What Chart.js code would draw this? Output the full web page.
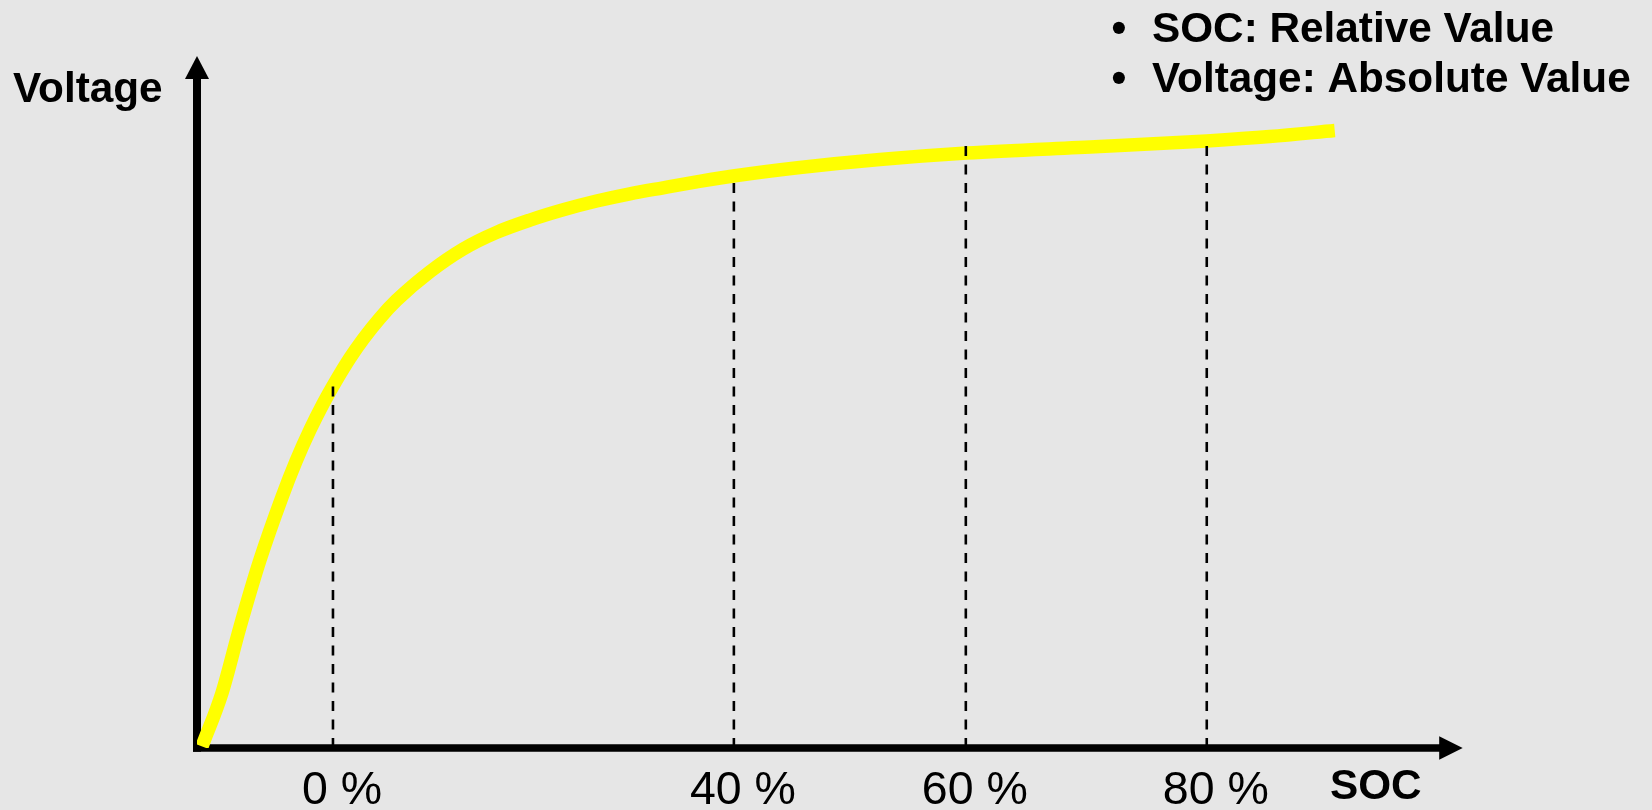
<!DOCTYPE html>
<html>
<head>
<meta charset="utf-8">
<script src="https://cdn.jsdelivr.net/npm/chart.js@4.4.1/dist/chart.umd.min.js"></script>
<style>
  html, body { margin: 0; padding: 0; background: #e6e6e6; overflow: hidden; }
  #wrap { width: 1652px; height: 810px; position: relative; }
</style>
</head>
<body>
<div id="wrap"><canvas id="c"></canvas></div>
<script>
// Charge axis in arbitrary capacity units, voltage axis in volts
const chargeAxisMax = 126.6;
const voltageAxisMax = 4.5;

// Charging curve of the cell
const curveCharge  = [0.5, 2.5, 4.3, 6.3, 8.5, 9.9, 11.3, 12.6, 13.95, 15.3, 16.63, 18.3, 19.97, 23.3, 26.63, 29.97, 33.3, 36.63, 39.97, 43.3, 46.63, 49.97, 53.8, 60.3, 68.3, 77.0, 90.3, 101.0, 107.3, 113.8];
const curveVoltage = [0.01, 0.358, 0.787, 1.223, 1.632, 1.864, 2.068, 2.237, 2.393, 2.536, 2.660, 2.796, 2.912, 3.097, 3.245, 3.353, 3.433, 3.500, 3.557, 3.604, 3.643, 3.681, 3.721, 3.775, 3.827, 3.869, 3.911, 3.948, 3.976, 4.015];

// SOC marks along the charge axis
const socLabels  = ['0 %', '40 %', '60 %', '80 %'];
const socCharge  = [13.6, 53.7, 76.9, 101.0];
const socVoltage = [2.35, 3.71, 3.92, 3.96];

const axisTitleX = 'SOC';
const axisTitleY = 'Voltage';
const notes = ['SOC: Relative Value', 'Voltage: Absolute Value'];

const FONT = '"Liberation Sans", Arial, Helvetica, sans-serif';

const curveData = curveCharge.map((x, i) => ({ x, y: curveVoltage[i] }));

const markerSets = socCharge.map((x, i) => ({
  label: socLabels[i],
  data: [{ x, y: 0 }, { x, y: socVoltage[i] }],
  borderColor: '#000',
  borderWidth: 2.6,
  borderDash: [10, 8.5],
  pointRadius: 0,
  fill: false,
  order: 1
}));

const axesPlugin = {
  id: 'arrowAxes',
  beforeDatasetsDraw(chart) {
    const { ctx, scales: { x: xs, y: ys } } = chart;
    const x0 = xs.getPixelForValue(0);
    const y0 = ys.getPixelForValue(0);
    const xEnd = xs.getPixelForValue(chargeAxisMax);
    const yEnd = ys.getPixelForValue(voltageAxisMax);
    ctx.save();
    ctx.fillStyle = '#000';
    // vertical axis with arrowhead
    ctx.fillRect(x0 - 4, yEnd + 22, 8, (y0 + 3.7) - (yEnd + 22));
    ctx.beginPath();
    ctx.moveTo(x0, yEnd);
    ctx.lineTo(x0 - 12, yEnd + 23);
    ctx.lineTo(x0 + 12, yEnd + 23);
    ctx.closePath();
    ctx.fill();
    // horizontal axis with arrowhead
    ctx.fillRect(x0 - 4, y0 - 3.75, (xEnd - 22) - (x0 - 4), 7.5);
    ctx.beginPath();
    ctx.moveTo(xEnd, y0);
    ctx.lineTo(xEnd - 23.5, y0 - 11.7);
    ctx.lineTo(xEnd - 23.5, y0 + 11.7);
    ctx.closePath();
    ctx.fill();
    ctx.restore();
  },
  afterDraw(chart) {
    const { ctx, scales: { x: xs, y: ys } } = chart;
    const y0 = ys.getPixelForValue(0);
    const xEnd = xs.getPixelForValue(chargeAxisMax);
    ctx.save();
    ctx.fillStyle = '#000';
    ctx.textBaseline = 'alphabetic';

    // SOC tick labels
    ctx.font = '46.5px ' + FONT;
    ctx.textAlign = 'center';
    socLabels.forEach((t, i) => {
      ctx.fillText(t, xs.getPixelForValue(socCharge[i]) + 9, y0 + 55.5);
    });

    // axis titles
    ctx.font = 'bold 42.3px ' + FONT;
    ctx.textAlign = 'left';
    ctx.fillText(axisTitleX, xEnd - 132.7, y0 + 51.3);
    ctx.fillText(axisTitleY, 13, 102);

    // bullet notes
    const base = [42.3, 91.7];
    notes.forEach((t, i) => {
      ctx.textAlign = 'center';
      ctx.fillText('\u2022', 1119, base[i]);
      ctx.textAlign = 'left';
      ctx.fillText(t, 1152, base[i]);
    });
    ctx.restore();
  }
};

new Chart(document.getElementById('c'), {
  type: 'line',
  data: {
    datasets: [
      ...markerSets,
      {
        label: 'Voltage',
        data: curveData,
        borderColor: '#ffff00',
        borderWidth: 13.5,
        borderCapStyle: 'butt',
        borderJoinStyle: 'round',
        cubicInterpolationMode: 'monotone',
        pointRadius: 0,
        fill: false,
        order: 2
      }
    ]
  },
  options: {
    responsive: true,
    maintainAspectRatio: false,
    animation: false,
    events: [],
    layout: { padding: { left: 197, right: 189.3, top: 56, bottom: 62 } },
    scales: {
      x: { type: 'linear', min: 0, max: chargeAxisMax, display: false },
      y: { type: 'linear', min: 0, max: voltageAxisMax, display: false }
    },
    plugins: {
      legend: { display: false },
      tooltip: { enabled: false },
      title: { display: false }
    }
  },
  plugins: [axesPlugin]
});
</script>
</body>
</html>
